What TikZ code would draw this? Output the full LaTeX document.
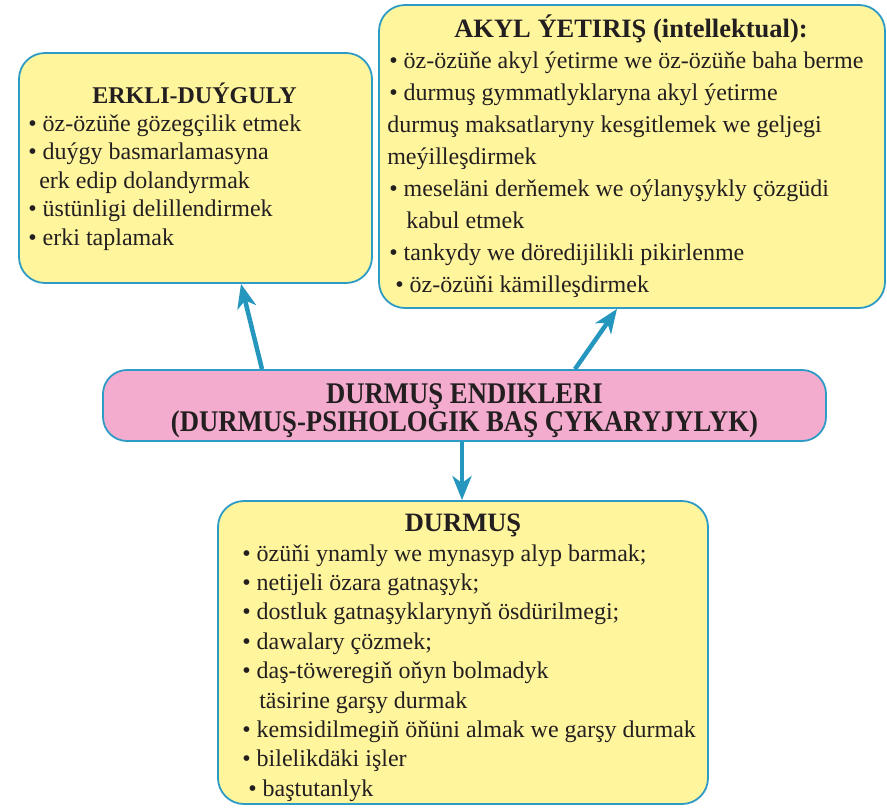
\documentclass[tikz,border=0pt]{standalone}
\usepackage{fontspec}
\setmainfont{Liberation Serif}
\newfontfamily\condfont[FakeStretch=0.89]{Liberation Serif}
\usepackage{xcolor}
\usetikzlibrary{positioning,arrows.meta,calc}
\definecolor{edgeblue}{HTML}{2E9BC6}
\definecolor{arrowblue}{HTML}{2596BE}
\definecolor{boxyellow}{HTML}{FFF59D}
\definecolor{boxpink}{HTML}{F3ACCD}
\definecolor{ink}{HTML}{231F20}

\begin{document}
\begin{tikzpicture}[
  x=1pt, y=-1pt,
  box/.style={draw=edgeblue, line width=1.8pt, fill=boxyellow, rounded corners=26pt, inner sep=0pt},
  pnk/.style={box, fill=boxpink, rounded corners=24pt},
  pnkT/.style={align=center, text=ink, inner sep=0pt,
    font=\condfont\bfseries\fontsize{30}{25.5}\selectfont},
  hd/.style={anchor=base, text=ink, inner sep=0pt, font=\bfseries\fontsize{24}{28}\selectfont},
  item/.style={anchor=base west, text=ink, inner sep=0pt, font=\fontsize{24}{28}\selectfont},
  arr/.style={-{Stealth[length=24pt, width=19pt, inset=7pt]}, line width=4.5pt, draw=arrowblue}
]
\fill[white] (0,0) rectangle (887,809);

\node[box, minimum width=353pt, minimum height=230pt] (erk) at (195.5,168) {};
\node[box, minimum width=506pt, minimum height=303pt] (akyl) at (632,156.5) {};
\node[pnk, minimum width=723pt, minimum height=71pt] (endik) at (464.5,405.5) {};
\node[box, minimum width=490pt, minimum height=303pt] (durmus) at (463,652.5) {};

\node[pnkT] (endikT) at ($(endik.center)+(0,5)$)
  {DURMUŞ ENDIKLERI\\(DURMUŞ-PSIHOLOGIK BAŞ ÇYKARYJYLYK)};

\node[hd] (erkT) at ($(erk.north)+(-1,51)$) {ERKLI-DUÝGULY};
\foreach \dx/\txt [count=\i from 0] in {
  0/{• öz-özüňe gözegçilik etmek},
  0/{• duýgy basmarlamasyna},
  11/{erk edip dolandyrmak},
  0/{• üstünligi delillendirmek},
  0/{• erki taplamak}}
  \node[item] (erk\i) at ($(erk.north west)+(10+\dx,79+28.5*\i)$) {\txt};

\node[hd, font=\bfseries\fontsize{26.5}{30}\selectfont] (akylT) at ($(akyl.north)+(-1,33)$)
  {AKYL ÝETIRIŞ (intellektual):};
\foreach \dx/\txt [count=\i from 0] in {
  0/{• öz-özüňe akyl ýetirme we öz-özüňe baha berme},
  0/{• durmuş gymmatlyklaryna akyl ýetirme},
  -2/{durmuş maksatlaryny kesgitlemek we geljegi},
  -2/{meýilleşdirmek},
  0/{• meseläni derňemek we oýlanyşykly çözgüdi},
  17/{kabul etmek},
  0/{• tankydy we dörediji\-likli pikirlenme},
  6/{• öz-özüňi kämilleşdirmek}}
  \node[item] (akyl\i) at ($(akyl.north west)+(11+\dx,64+32*\i)$) {\txt};

\node[hd, font=\bfseries\fontsize{26.5}{30}\selectfont] (durmusT) at ($(durmus.north)+(0,31)$) {DURMUŞ};
\foreach \dx/\txt [count=\i from 0] in {
  0/{• özüňi ynamly we mynasyp alyp barmak;},
  0/{• netijeli özara gatnaşyk;},
  0/{• dostluk gatnaşyklarynyň ösdürilmegi;},
  0/{• dawalary çözmek;},
  0/{• daş-töweregiň oňyn bolmadyk},
  17/{täsirine garşy durmak},
  0/{• kemsidilmegiň öňüni almak we garşy durmak},
  0/{• bilelikdäki işler},
  6/{• baştutanlyk}}
  \node[item] (durmus\i) at ($(durmus.north west)+(25+\dx,61+29.4*\i)$) {\txt};

\draw[arr] ([xshift=-202.5pt]endik.north) -- ([xshift=45.5pt]erk.south);
\draw[arr] ([xshift=110.5pt]endik.north) -- ([xshift=-15pt]akyl.south);
\draw[arr] ([xshift=-2.5pt]endik.south) -- ([xshift=-1pt]durmus.north);
\end{tikzpicture}
\end{document}
